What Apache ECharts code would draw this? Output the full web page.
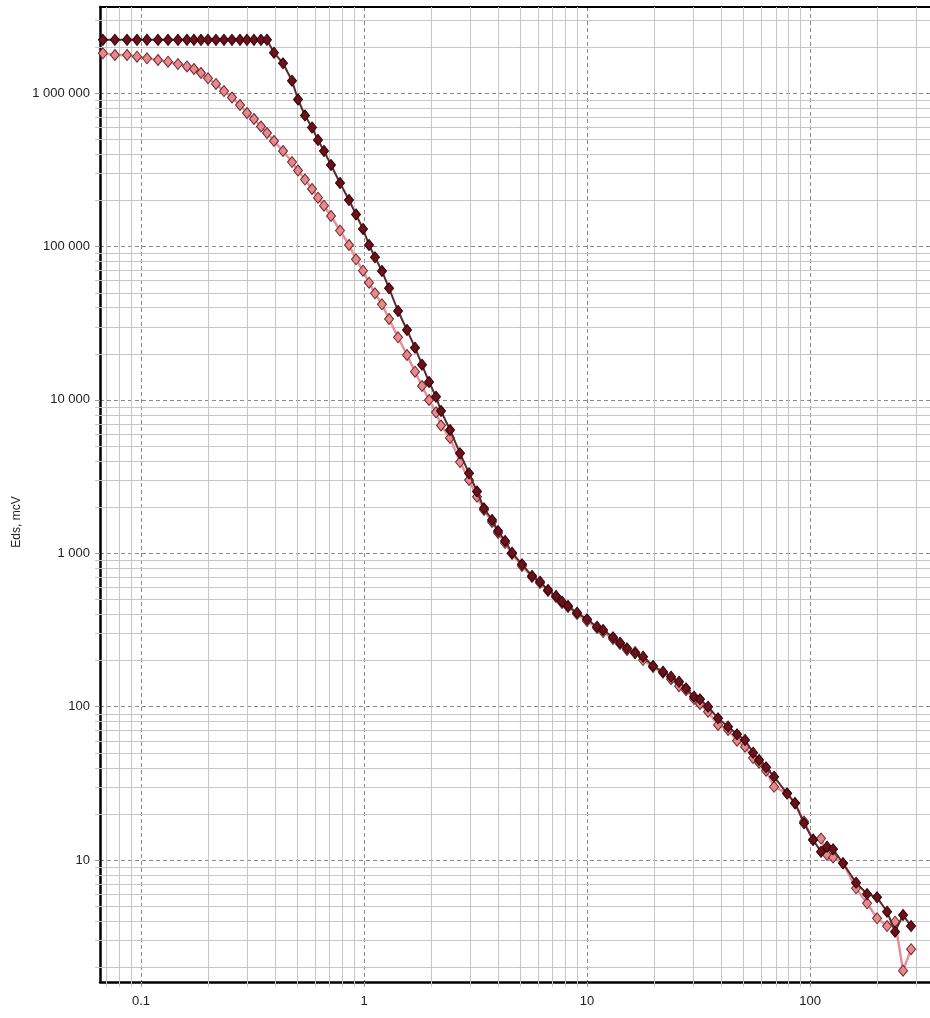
<!DOCTYPE html>
<html>
<head>
<meta charset="utf-8">
<script src="https://cdn.jsdelivr.net/npm/echarts@6/dist/echarts.min.js"></script>
<style>
html,body{margin:0;padding:0;background:#fff;}
#chart{width:930px;height:1018px;}
</style>
</head>
<body>
<div id="chart"></div>
<script>
// time gates (ms)
const xValues = [
  0.0675, 0.0764, 0.0866, 0.0960, 0.1064, 0.1192, 0.1322, 0.1465, 0.1608, 0.1728,
  0.1858, 0.1997, 0.2169, 0.2356, 0.2559, 0.2780, 0.2987, 0.3211, 0.3452, 0.3673,
  0.3948, 0.4334, 0.4755, 0.5058, 0.5437, 0.5845, 0.6218, 0.6615, 0.7112, 0.7805,
  0.8564, 0.9207, 0.9897, 1.053, 1.120, 1.204, 1.295, 1.421, 1.559, 1.693,
  1.820, 1.957, 2.103, 2.215, 2.431, 2.695, 2.958, 3.211, 3.452, 3.750,
  3.991, 4.289, 4.609, 5.111, 5.667, 6.155, 6.686, 7.261, 7.725, 8.217,
  9.020, 10.0, 11.09, 11.80, 13.08, 14.06, 15.11, 16.42, 17.83, 19.77,
  21.91, 23.81, 25.86, 27.79, 30.19, 32.11, 34.88, 38.68, 42.89, 47.06,
  51.11, 55.52, 59.06, 63.50, 68.97, 78.88, 85.64, 94.0, 103.2, 112.0,
  119.2, 126.8, 140.6, 160.8, 180.2, 199.7, 221.5, 240.5, 261.2, 283.8
];
// dark series, Eds (mcV)
const darkValues = [
  2220000, 2220000, 2220000, 2220000, 2220000, 2220000, 2220000, 2220000, 2220000, 2220000,
  2220000, 2220000, 2220000, 2220000, 2220000, 2220000, 2220000, 2220000, 2220000, 2220000,
  1831000, 1562000, 1203000, 907000, 713500, 596000, 493800, 418700, 339400, 259000,
  200700, 161400, 129900, 102100, 84900, 69130, 53330, 37920, 28510, 21860,
  16930, 13060, 10470, 8453, 6356, 4479, 3317, 2525, 1962, 1646,
  1395, 1201, 1008, 846.4, 710.1, 652, 575.5, 526, 483, 452.7,
  409.4, 370.8, 331.8, 315.7, 283, 261, 239.9, 222.6, 211.5, 183.9,
  168.9, 156.6, 145.3, 131.6, 116, 111.6, 99.8, 83.9, 74, 66,
  60.6, 50.07, 44.87, 40.2, 34.9, 27.1, 23.5, 17.35, 13.5, 11.33,
  12.21, 11.74, 9.52, 7.11, 6.00, 5.71, 4.60, 3.41, 4.38, 3.71
];
// pink series, Eds (mcV)
const pinkValues = [
  1815000, 1769000, 1769000, 1724000, 1683000, 1641000, 1600000, 1545000, 1489000, 1434000,
  1350000, 1247000, 1145000, 1030000, 934700, 835000, 740800, 676900, 604800, 548500,
  486500, 418700, 354800, 312500, 272900, 236700, 207700, 184200, 157800, 126900,
  102100, 82400, 69440, 57990, 49450, 41940, 33630, 25550, 19590, 15250,
  12300, 9970, 8290, 6800, 5640, 3930, 3000, 2335, 1913, 1598,
  1354, 1165, 988, 825, 700, 639, 567, 518, 473, 446,
  401, 361, 325, 306, 276, 256, 234, 227, 201, 181,
  166, 151, 136, 128, 112, 104, 92.6, 75.9, 70.4, 60.0,
  54.8, 46.2, 43.1, 38.2, 30.0, 27.2, 23.4, 17.8, 13.6, 13.8,
  10.8, 10.4, 9.52, 6.54, 5.22, 4.17, 3.71, 3.96, 1.90, 2.62
];
// tick labels
const xTickValues = [0.1, 1, 10, 100];
const xTickLabels = ['0.1', '1', '10', '100'];
const yTickValues = [10, 100, 1000, 10000, 100000, 1000000];
const yTickLabels = ['10', '100', '1 000', '10 000', '100 000', '1 000 000'];
// minor grid lines
const xMinor = [0.07, 0.08, 0.09, 0.2, 0.3, 0.4, 0.5, 0.6, 0.7, 0.8, 0.9,
  2, 3, 4, 5, 6, 7, 8, 9, 20, 30, 40, 50, 60, 70, 80, 90, 200, 300];
const yMinor = [2, 3, 4, 5, 6, 7, 8, 9, 20, 30, 40, 50, 60, 70, 80, 90,
  200, 300, 400, 500, 600, 700, 800, 900, 2000, 3000, 4000, 5000, 6000, 7000, 8000, 9000,
  20000, 30000, 40000, 50000, 60000, 70000, 80000, 90000,
  200000, 300000, 400000, 500000, 600000, 700000, 800000, 900000, 2000000, 3000000];
const yAxisTitle = 'Eds, mcV';

const X_MIN = 0.0655, X_MAX = 345, Y_MIN = 1.602, Y_MAX = 3636000;

function lookup(vals, labels, v) {
  for (let i = 0; i < vals.length; i++) {
    if (Math.abs(Math.log10(v) - Math.log10(vals[i])) < 1e-6) return labels[i];
  }
  return '';
}

const chart = echarts.init(document.getElementById('chart'), null, {renderer: 'canvas'});
const FONT = '"Liberation Sans", Arial, sans-serif';

const option = {
  animation: false,
  backgroundColor: '#ffffff',
  grid: {left: 100, right: 0, top: 7, bottom: 36, containLabel: false},
  xAxis: [{
    type: 'log', logBase: 10, min: X_MIN, max: X_MAX,
    axisLine: {show: true, lineStyle: {color: '#000', width: 2.5}},
    axisTick: {show: true, length: 5, lineStyle: {color: '#999', width: 1}},
    axisLabel: {
      show: true, showMinLabel: false, showMaxLabel: false, margin: 13,
      fontFamily: FONT, fontSize: 13, color: '#222',
      formatter: v => lookup(xTickValues, xTickLabels, v)
    },
    splitLine: {show: true, lineStyle: {color: '#8a8a8a', width: 1, type: [4, 3]}},
    minorTick: {show: false}, minorSplitLine: {show: false}
  }, {
    type: 'log', logBase: 10, min: X_MIN, max: X_MAX, position: 'top',
    axisLine: {show: true, lineStyle: {color: '#000', width: 2}},
    axisTick: {show: false}, axisLabel: {show: false}, splitLine: {show: false}
  }],
  yAxis: {
    type: 'log', logBase: 10, min: Y_MIN, max: Y_MAX,
    axisLine: {show: true, lineStyle: {color: '#000', width: 2.5}},
    axisTick: {show: true, length: 5, lineStyle: {color: '#999', width: 1}},
    axisLabel: {
      show: true, showMinLabel: false, showMaxLabel: false, margin: 10,
      fontFamily: FONT, fontSize: 13, color: '#222',
      formatter: v => lookup(yTickValues, yTickLabels, v)
    },
    splitLine: {show: true, lineStyle: {color: '#8a8a8a', width: 1, type: [4, 3]}},
    minorTick: {show: false}, minorSplitLine: {show: false}
  },
  graphic: [{
    type: 'text',
    x: 17, y: 522,
    rotation: Math.PI / 2,
    style: {text: yAxisTitle, fontFamily: FONT, fontSize: 12, fill: '#222', align: 'center', verticalAlign: 'middle'}
  }],
  series: [
    {
      type: 'custom', name: 'xminor', silent: true, z: 1, clip: false,
      data: xMinor.map(v => [v, 10]),
      renderItem: function (params, api) {
        const cs = params.coordSys;
        const p = api.coord([api.value(0), api.value(1)]);
        const x = Math.round(p[0]) + 0.5;
        return {type: 'line', shape: {x1: x, y1: cs.y, x2: x, y2: cs.y + cs.height + 5},
          style: {stroke: '#c6c6c6', lineWidth: 1}};
      }
    },
    {
      type: 'custom', name: 'yminor', silent: true, z: 1, clip: false,
      data: yMinor.map(v => [1, v]),
      renderItem: function (params, api) {
        const cs = params.coordSys;
        const p = api.coord([api.value(0), api.value(1)]);
        const y = Math.round(p[1]) + 0.5;
        return {type: 'line', shape: {x1: cs.x - 5, y1: y, x2: cs.x + cs.width, y2: y},
          style: {stroke: '#c6c6c6', lineWidth: 1}};
      }
    },
    {
      type: 'line', name: 'pink', z: 3,
      data: xValues.map((x, i) => [x, pinkValues[i]]),
      symbol: 'diamond', symbolSize: [9, 11], showAllSymbol: true,
      lineStyle: {color: '#e8909a', width: 2.5},
      itemStyle: {color: '#e8878d', borderColor: '#6a2a2e', borderWidth: 1},
      emphasis: {disabled: true}
    },
    {
      type: 'line', name: 'dark', z: 4,
      data: xValues.map((x, i) => [x, darkValues[i]]),
      symbol: 'diamond', symbolSize: [9, 11], showAllSymbol: true,
      lineStyle: {color: '#5a2a2c', width: 2},
      itemStyle: {color: '#6e0f1c', borderColor: '#2e0508', borderWidth: 1},
      emphasis: {disabled: true}
    }
  ]
};
chart.setOption(option);
</script>
</body>
</html>
